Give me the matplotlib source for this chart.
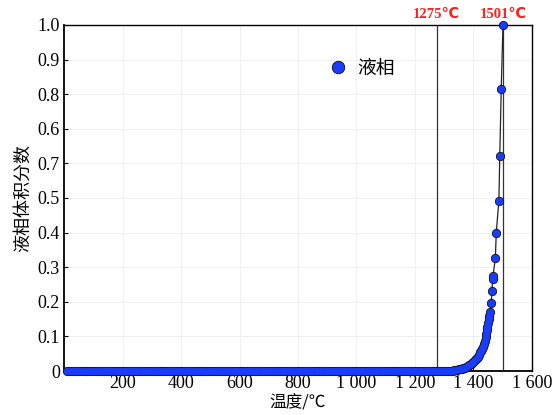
import matplotlib
matplotlib.use('Agg')
import matplotlib.pyplot as plt

# temperature (°C) and liquid volume fraction
temp_solid = [10, 20, 30, 40, 50, 60, 70, 80, 90, 100, 110, 120, 130, 140, 150,
              160, 170, 180, 190, 200, 210, 220, 230, 240, 250, 260, 270, 280,
              290, 300, 310, 320, 330, 340, 350, 360, 370, 380, 390, 400, 410,
              420, 430, 440, 450, 460, 470, 480, 490, 500, 510, 520, 530, 540,
              550, 560, 570, 580, 590, 600, 610, 620, 630, 640, 650, 660, 670,
              680, 690, 700, 710, 720, 730, 740, 750, 760, 770, 780, 790, 800,
              810, 820, 830, 840, 850, 860, 870, 880, 890, 900, 910, 920, 930,
              940, 950, 960, 970, 980, 990, 1000, 1010, 1020, 1030, 1040, 1050,
              1060, 1070, 1080, 1090, 1100, 1110, 1120, 1130, 1140, 1150, 1160,
              1170, 1180, 1190, 1200, 1210, 1220, 1230, 1240, 1250, 1260, 1270,
              1280, 1290, 1300, 1310, 1320, 1330]
frac_solid = [0.0] * len(temp_solid)

temp_melt = [1335, 1340, 1345, 1350, 1355, 1360, 1365, 1370, 1375, 1380, 1385,
             1390, 1395, 1400, 1404, 1408, 1412, 1416, 1420, 1424, 1427, 1430,
             1433, 1436, 1439, 1442, 1444, 1446, 1448, 1450, 1452, 1454, 1456,
             1461, 1463, 1466, 1467, 1475, 1478, 1487, 1490, 1495, 1501]
frac_melt = [0.002, 0.003, 0.004, 0.005, 0.006, 0.007, 0.008, 0.010, 0.012,
             0.014, 0.017, 0.020, 0.023, 0.027, 0.031, 0.035, 0.038, 0.041,
             0.047, 0.054, 0.059, 0.064, 0.070, 0.078, 0.087, 0.099, 0.108,
             0.118, 0.128, 0.139, 0.150, 0.160, 0.170, 0.196, 0.232, 0.265,
             0.275, 0.327, 0.400, 0.492, 0.621, 0.815, 1.0]

temp = temp_solid + temp_melt
frac = frac_solid + frac_melt

x_ticks = [200, 400, 600, 800, 1000, 1200, 1400, 1600]
x_labels = ['200', '400', '600', '800', '1 000', '1 200', '1 400', '1 600']
y_ticks = [0, 0.1, 0.2, 0.3, 0.4, 0.5, 0.6, 0.7, 0.8, 0.9, 1.0]
y_labels = ['0', '0.1', '0.2', '0.3', '0.4', '0.5', '0.7', '0.6', '0.8', '0.9', '1.0']

t_start, t_end = 1275, 1501

serif = 'Liberation Serif'
cjk = ['Noto Sans CJK SC', 'DejaVu Sans']
blue = '#1a3cff'

fig = plt.figure(figsize=(5.57, 4.15), dpi=100)
ax = fig.add_axes([0.115, 0.106, 0.84, 0.834])

ax.plot(temp, frac, color='#222222', lw=0.9, zorder=2)
# outlined markers, then plain fill on top so dense runs merge into one band
ax.plot(temp, frac, 'o', ms=6.0, mfc=blue, mec='#101010', mew=0.6,
        clip_on=False, zorder=3, label='液相')
ax.plot(temp, frac, 'o', ms=5.0, mfc=blue, mew=0, clip_on=False, zorder=4)

ax.axvline(t_start, color='#333333', lw=0.9, zorder=1)
ax.axvline(t_end, color='#333333', lw=0.9, zorder=1)

ax.text(t_start, 1.012, '1275℃', color='#ff2020', fontsize=10.5, fontweight='bold',
        family=[serif, 'DejaVu Sans'], ha='center', va='bottom')
ax.text(t_end, 1.012, '1501℃', color='#ff2020', fontsize=10.5, fontweight='bold',
        family=[serif, 'DejaVu Sans'], ha='center', va='bottom')

ax.set_xlim(0, 1600)
ax.set_ylim(0, 1.0)
ax.set_xticks(x_ticks)
ax.set_xticklabels(x_labels, family=serif, fontsize=13)
ax.set_yticks(y_ticks)
ax.set_yticklabels(y_labels, family=serif, fontsize=13)
ax.tick_params(direction='in', length=3, width=0.8, pad=3)
ax.grid(True, color='#eeeeee', lw=0.6)
ax.set_axisbelow(True)

for s in ['left', 'bottom']:
    ax.spines[s].set_linewidth(1.3)
for s in ['top', 'right']:
    ax.spines[s].set_linewidth(1.0)

ax.set_xlabel('温度/℃', family=cjk, fontsize=12, labelpad=2)
ax.set_ylabel('液相体积分数', family=cjk, fontsize=13, labelpad=4)

leg = ax.legend(loc='center left', bbox_to_anchor=(0.51, 0.875), frameon=False,
                handletextpad=0.0, markerscale=1.5, prop={'family': cjk, 'size': 13.5})

fig.savefig('out.png', dpi=100)
